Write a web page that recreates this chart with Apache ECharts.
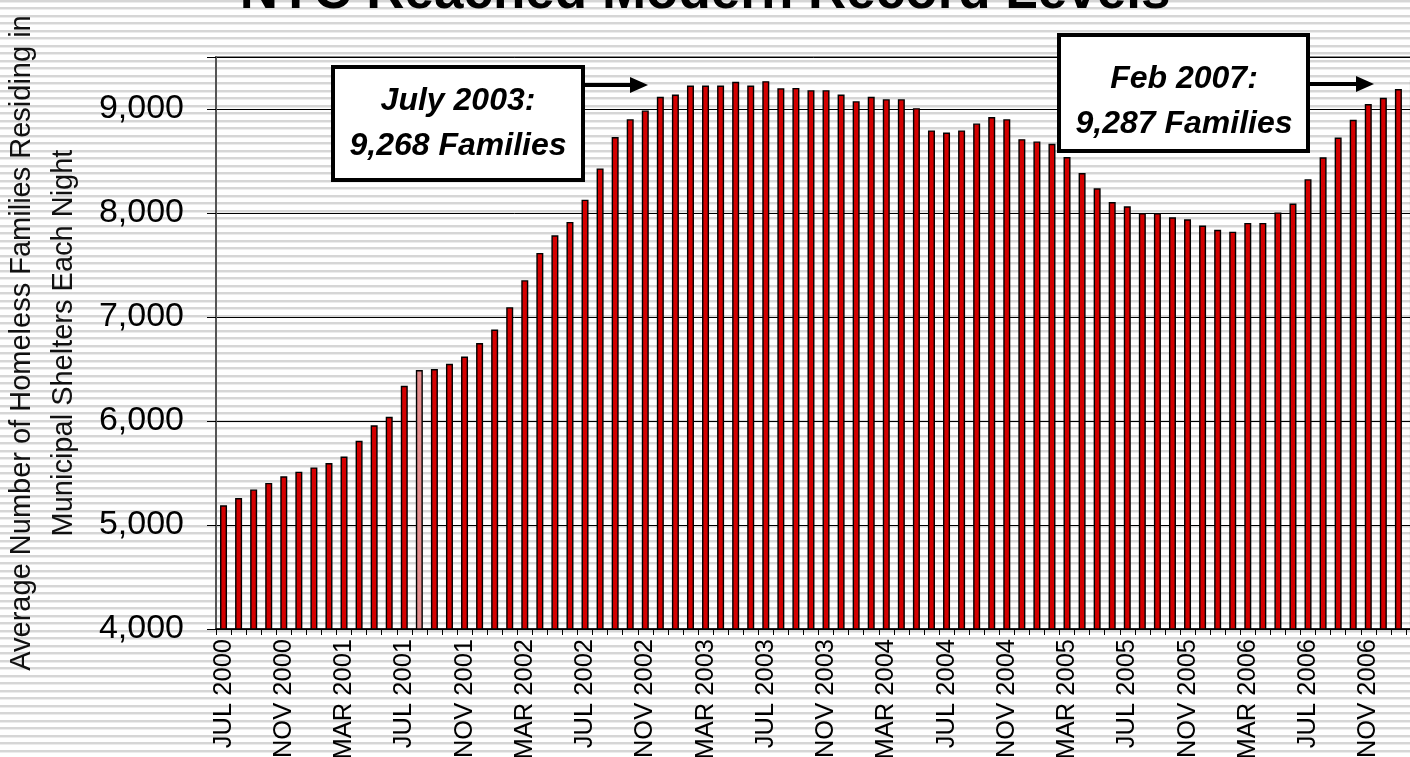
<!DOCTYPE html>
<html>
<head>
<meta charset="utf-8">
<script src="https://cdn.jsdelivr.net/npm/echarts@6/dist/echarts.min.js"></script>
<style>
html,body{margin:0;padding:0;width:1410px;height:757px;overflow:hidden;
background:#fff repeating-linear-gradient(180deg,#d6d6d6 0px,#d6d6d6 2px,#ececec 2px,#ececec 3px,#ffffff 3px,#ffffff 7.5px);}
#chart{width:1410px;height:757px;}
</style>
</head>
<body>
<div id="chart"></div>
<script>
// ---- data ----
const categories = [
 "JUL 2000","AUG 2000","SEP 2000","OCT 2000","NOV 2000","DEC 2000",
 "JAN 2001","FEB 2001","MAR 2001","APR 2001","MAY 2001","JUN 2001","JUL 2001","AUG 2001","SEP 2001","OCT 2001","NOV 2001","DEC 2001",
 "JAN 2002","FEB 2002","MAR 2002","APR 2002","MAY 2002","JUN 2002","JUL 2002","AUG 2002","SEP 2002","OCT 2002","NOV 2002","DEC 2002",
 "JAN 2003","FEB 2003","MAR 2003","APR 2003","MAY 2003","JUN 2003","JUL 2003","AUG 2003","SEP 2003","OCT 2003","NOV 2003","DEC 2003",
 "JAN 2004","FEB 2004","MAR 2004","APR 2004","MAY 2004","JUN 2004","JUL 2004","AUG 2004","SEP 2004","OCT 2004","NOV 2004","DEC 2004",
 "JAN 2005","FEB 2005","MAR 2005","APR 2005","MAY 2005","JUN 2005","JUL 2005","AUG 2005","SEP 2005","OCT 2005","NOV 2005","DEC 2005",
 "JAN 2006","FEB 2006","MAR 2006","APR 2006","MAY 2006","JUN 2006","JUL 2006","AUG 2006","SEP 2006","OCT 2006","NOV 2006","DEC 2006",
 "JAN 2007","FEB 2007"
];
const families = [
 5190,5259,5342,5405,5468,5513,
 5554,5595,5658,5810,5959,6041,6339,6490,6500,6550,6620,6750,
 6880,7094,7354,7616,7786,7914,8128,8429,8730,8902,8986,9117,
 9139,9226,9226,9226,9262,9226,9268,9200,9203,9181,9181,9139,
 9075,9117,9094,9094,9008,8794,8774,8794,8861,8922,8902,8710,
 8688,8666,8538,8384,8237,8106,8064,8000,8000,7958,7940,7880,
 7839,7820,7905,7905,8006,8091,8325,8536,8726,8896,9047,9107,
 9192,9287
];
const highlightIndex = 13;
const yTicks = [4000,5000,6000,7000,8000,9000];
const titleText = "NYC Reached Modern Record Levels";
const yAxisName = "Average Number of Homeless Families Residing in\nMunicipal Shelters Each Night";
const note1 = ["July 2003:", "9,268 Families"];
const note2 = ["Feb 2007:", "9,287 Families"];

// ---- chart ----
const FONT = "'Liberation Sans', Arial, sans-serif";
const chart = echarts.init(document.getElementById('chart'), null, {renderer:'canvas'});
const seriesData = families.map((v,i)=> i===highlightIndex
  ? {value:v, itemStyle:{color:'#e48c8c', borderColor:'#000', borderWidth:1.4}}
  : v);

function fmt(v){ return String(v).replace(/\B(?=(\d{3})+(?!\d))/g, ','); }

const boxStyle = {fill:'#fff', stroke:'#000', lineWidth:4};
const noteFont = {fontFamily:FONT, fontSize:32, fontWeight:'bold', fontStyle:'italic', fill:'#000', align:'center', verticalAlign:'middle'};

chart.setOption({
  backgroundColor:'transparent',
  animation:false,
  title:{text:titleText, left:'center', top:-38,
    textStyle:{fontFamily:FONT, fontSize:53, fontWeight:'bold', color:'#000'}},
  grid:{left:216, top:57, width:1205, bottom:128, containLabel:false, outerBoundsMode:'none',
    show:true, borderColor:'#8a8a8a', borderWidth:2, backgroundColor:'transparent'},
  xAxis:{
    type:'category', data:categories, boundaryGap:true,
    axisLine:{lineStyle:{color:'#000', width:1.5}},
    axisTick:{show:true, interval:0, length:6, lineStyle:{color:'#000', width:1}},
    axisLabel:{interval:3, rotate:90, fontFamily:FONT, fontSize:25.5, color:'#000', margin:10}
  },
  yAxis:{
    type:'value', min:4000, max:9500, interval:1000,
    name:yAxisName, nameLocation:'middle', nameRotate:90, nameGap:131,
    nameTextStyle:{fontFamily:FONT, fontSize:29, color:'#111', lineHeight:42, align:'center'},
    axisLine:{show:true, lineStyle:{color:'#555', width:2}},
    axisTick:{show:true, length:9, lineStyle:{color:'#000', width:1}},
    axisLabel:{fontFamily:FONT, fontSize:34, color:'#000', margin:32,
      formatter:(v)=> yTicks.indexOf(v)>=0 ? fmt(v) : ''},
    splitLine:{show:true, lineStyle:{color:'#000', width:1}}
  },
  series:[{
    type:'bar', data:seriesData, barWidth:7,
    itemStyle:{color:'#d40000', borderColor:'#000', borderWidth:1.4},
    silent:true
  }],
  graphic:[
    {type:'rect', shape:{x:333, y:67, width:250, height:113}, style:boxStyle, z:100},
    {type:'text', x:458, y:101, style:Object.assign({text:note1[0]}, noteFont), z:101},
    {type:'text', x:458, y:146, style:Object.assign({text:note1[1]}, noteFont), z:101},
    {type:'line', shape:{x1:583, y1:85, x2:632, y2:85}, style:{stroke:'#000', lineWidth:4}, z:100},
    {type:'polygon', shape:{points:[[630,77],[648,85],[630,93]]}, style:{fill:'#000'}, z:100},
    {type:'rect', shape:{x:1059, y:35, width:249, height:116}, style:boxStyle, z:100},
    {type:'text', x:1184, y:79, style:Object.assign({text:note2[0]}, noteFont), z:101},
    {type:'text', x:1184, y:124, style:Object.assign({text:note2[1]}, noteFont), z:101},
    {type:'line', shape:{x1:1308, y1:84, x2:1358, y2:84}, style:{stroke:'#000', lineWidth:4}, z:100},
    {type:'polygon', shape:{points:[[1356,76],[1374,84],[1356,92]]}, style:{fill:'#000'}, z:100}
  ]
});
</script>
</body>
</html>
